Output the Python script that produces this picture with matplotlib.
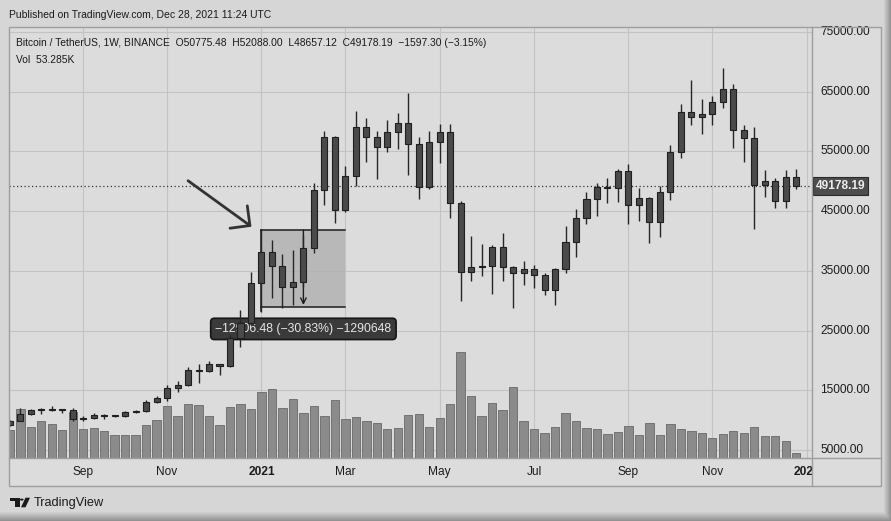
import numpy as np
import matplotlib.pyplot as plt
from matplotlib.patches import Rectangle, Polygon, Circle
from matplotlib.lines import Line2D

plt.rcParams['font.family'] = ['Liberation Sans', 'DejaVu Sans']

# weekly BTC/USDT candles, week of 2020-07-20 .. 2021-12-27
opens = [9160, 9930, 11100, 11680, 11900, 11650, 11700, 10250, 10330, 10930,
         10775, 10670, 11380, 11500, 13030, 13760, 15480, 15960, 18400, 18180,
         19350, 19150, 23700, 26280, 33000, 38150, 35830, 32260, 33090, 38890,
         48580, 57410, 45140, 50970, 59020, 57340, 55790, 58200, 59770, 56200,
         49070, 56580, 58240, 46430, 34770, 35680, 35800, 39020, 35600, 34700,
         35290, 34260, 31780, 35400, 39850, 43800, 47080, 49000, 48850, 51760,
         46060, 47240, 43160, 48200, 54950, 61530, 60850, 61300, 63270, 65500,
         58620, 57270, 49400, 50100, 46680, 50775.48]
highs = [10100, 12120, 11900, 12100, 12470, 11800, 12090, 10800, 11180, 10990,
         10950, 11500, 11720, 13350, 14100, 15960, 16500, 18950, 19480, 19900,
         19420, 24300, 28400, 34780, 41950, 40100, 37850, 38530, 40950, 49700,
         58350, 57530, 52640, 61800, 60630, 58400, 60200, 61500, 64850, 57500,
         58450, 59600, 59600, 46660, 40900, 39500, 39400, 41330, 35750, 36600,
         35950, 34600, 35500, 42600, 45300, 48150, 49800, 50500, 52000, 52920,
         48840, 47360, 49230, 56100, 62930, 67000, 63710, 64270, 69000, 66280,
         59400, 59050, 51940, 50520, 51850, 52088.00]
lows = [9050, 9880, 10920, 11120, 11570, 11150, 9880, 9880, 10200, 10140,
        10500, 10530, 11200, 11400, 12880, 13200, 14800, 15800, 16200, 18100,
        17600, 19000, 22350, 26000, 28130, 30420, 28850, 29240, 32300, 37990,
        46000, 43000, 44950, 49300, 53270, 50430, 54900, 55470, 51000, 47050,
        48750, 53050, 43830, 30000, 33400, 34230, 31120, 33340, 28800, 32700,
        32080, 31020, 29280, 34700, 37300, 42850, 44200, 46370, 46500, 42840,
        43370, 39600, 40750, 46900, 53880, 59500, 58000, 59400, 62300, 55600,
        53260, 42000, 47320, 45500, 45560, 48657.12]
closes = opens[1:] + [49178.19]
# volume in thousand BTC
volumes = [283, 500, 317, 373, 343, 283, 467, 290, 300, 273,
           230, 230, 230, 333, 383, 523, 423, 543, 533, 423,
           333, 513, 543, 493, 663, 700, 503, 593, 460, 523,
           423, 583, 393, 413, 373, 353, 293, 303, 433, 443,
           313, 403, 543, 1073, 623, 423, 553, 483, 713, 373,
           293, 253, 313, 453, 373, 303, 293, 243, 263, 323,
           233, 353, 233, 343, 293, 273, 253, 203, 243, 273,
           253, 313, 223, 223, 173, 53.285]

month_pos = [7, 15, 24, 32, 41, 50, 59, 67, 76]
month_lbl = ['Sep', 'Nov', '2021', 'Mar', 'May', 'Jul', 'Sep', 'Nov', '2022']
price_ticks = [5000, 15000, 25000, 35000, 45000, 55000, 65000, 75000]
last_price = 49178.19

W, H = 891, 521
bg = '#d6d6d6'
pane = '#dcdcdc'
gridc = '#c3c3c3'
linec = '#9e9e9e'


def fx(p):
    return p / W


def fy(p):
    return 1 - p / H


L, R, T, B = 9.3, 811.7, 26.7, 458.3
RR, BB = 881, 486

fig = plt.figure(figsize=(8.91, 5.21), dpi=100, facecolor=bg)

ax = fig.add_axes([fx(L), fy(B), fx(R) - fx(L), fy(T) - fy(B)])
ax.set_facecolor(pane)
for s in ax.spines.values():
    s.set_visible(False)
ax.set_xticks([])
ax.set_yticks([])

x = np.arange(len(opens))
o = np.array(opens)
c = np.array(closes)

for p in price_ticks:
    ax.axhline(p, color=gridc, lw=0.8, zorder=0)
for m in month_pos:
    ax.axvline(m, color=gridc, lw=0.8, zorder=0)

vtop = 4338.0
ax.bar(x, np.array(volumes) / vtop, width=0.8, bottom=0,
       transform=ax.get_xaxis_transform(), color='#8b8b8b',
       edgecolor='#727272', lw=0.7, zorder=1)

ax.vlines(x, lows, highs, color='#262626', lw=1.0, zorder=3)
ax.bar(x, np.maximum(np.abs(c - o), 180), bottom=np.minimum(o, c), width=0.58,
       color='#4a4a4a', edgecolor='#1f1f1f', lw=0.8, zorder=4)

ax.axhline(last_price, color='#333333', lw=0.9, ls=(0, (1, 2)), zorder=2)

# measure tool
box_top, box_bot = 41862, 28956
ax.add_patch(Rectangle((24, box_bot), 8, box_top - box_bot, fc='#b0b0b0',
                       ec='none', alpha=0.8, zorder=2))
ax.plot([24, 32], [box_top, box_top], color='#1e1e1e', lw=1.1, zorder=2.2)
ax.plot([24, 32], [box_bot, box_bot], color='#1e1e1e', lw=1.1, zorder=2.2)
ax.plot([24, 24], [box_top, box_bot - 600], color='#1e1e1e', lw=1.1, zorder=2.2)
ax.annotate('', xy=(28, box_bot + 350), xytext=(28, box_top),
            arrowprops=dict(arrowstyle='->', color='#1e1e1e', lw=1.0,
                            shrinkA=0, shrinkB=0), zorder=2.2)
ax.text(28, 25300, '\u221212906.48 (\u221230.83%) \u22121290648', ha='center',
        va='center', fontsize=8.8, color='#e6e6e6', zorder=2.6,
        bbox=dict(boxstyle='round,pad=0.38,rounding_size=0.3', fc='#3a3a3a',
                  ec='#151515', lw=1.2))

# hand drawn arrow
ax.plot([17.0, 22.9], [50100, 42600], color='#333333', lw=2.0,
        solid_capstyle='round', zorder=5)
ax.plot([21.0, 22.9, 22.65], [42150, 42600, 45900], color='#333333', lw=2.0,
        solid_capstyle='round', zorder=5)

ax.set_xlim(-0.05, 76.48)
ax.set_ylim(3645, 75880)

# price scale
axp = fig.add_axes([fx(R), fy(B), fx(RR) - fx(R), fy(T) - fy(B)])
axp.set_facecolor(pane)
axp.set_xlim(0, 1)
axp.set_ylim(ax.get_ylim())
axp.set_xticks([])
axp.set_yticks([])
for s in axp.spines.values():
    s.set_visible(False)
for p in price_ticks:
    axp.text(0.125, p, f'{p:.2f}', va='center', ha='left', fontsize=8.6,
             color='#1c1c1c')
axp.text(0.06, last_price, f'{last_price:.2f}', va='center', ha='left',
         fontsize=8.6, color='#ececec', fontweight='bold',
         bbox=dict(boxstyle='square,pad=0.25', fc='#4d4d4d', ec='#2a2a2a',
                   lw=0.8))

# time scale
axt = fig.add_axes([fx(L), fy(BB), fx(R) - fx(L), fy(B) - fy(BB)])
axt.set_facecolor(pane)
axt.set_xlim(ax.get_xlim())
axt.set_ylim(0, 1)
axt.set_xticks([])
axt.set_yticks([])
for s in axt.spines.values():
    s.set_visible(False)
for m, lbl in zip(month_pos, month_lbl):
    axt.text(m, 0.5, lbl, ha='center', va='center', fontsize=8.6,
             color='#1c1c1c', clip_on=True,
             fontweight='bold' if lbl.isdigit() else 'normal')

# corner
fig.add_artist(Rectangle((fx(R), fy(BB)), fx(RR) - fx(R), fy(B) - fy(BB),
                         transform=fig.transFigure, fc=pane, ec='none'))

# frame lines
fig.add_artist(Rectangle((fx(L), fy(BB)), fx(RR) - fx(L), fy(T) - fy(BB),
                         transform=fig.transFigure, fc='none', ec=linec,
                         lw=1.0, zorder=10))
fig.add_artist(Line2D([fx(R), fx(R)], [fy(T), fy(BB)], transform=fig.transFigure,
                      color=linec, lw=1.0, zorder=10))
fig.add_artist(Line2D([fx(L), fx(RR)], [fy(B), fy(B)], transform=fig.transFigure,
                      color=linec, lw=1.0, zorder=10))

# texts
fig.text(fx(9), fy(15), 'Published on TradingView.com, Dec 28, 2021 11:24 UTC',
         va='center', ha='left', fontsize=7.5, color='#1a1a1a')
fig.text(fx(16), fy(43), 'Bitcoin / TetherUS, 1W, BINANCE  O50775.48  H52088.00  '
         'L48657.12  C49178.19  \u22121597.30 (\u22123.15%)',
         va='center', ha='left', fontsize=7.4, color='#1a1a1a')
fig.text(fx(16), fy(60), 'Vol  53.285K', va='center', ha='left', fontsize=7.4,
         color='#1a1a1a')


# logo
def pts(lst):
    return [(fx(a), fy(b)) for a, b in lst]


logo = '#1a1a1a'
fig.add_artist(Polygon(pts([(10, 497.7), (19.5, 497.7), (19.5, 507.3), (15, 507.3),
                            (15, 501.3), (10, 501.3)]),
                       closed=True, transform=fig.transFigure, fc=logo, ec='none'))
fig.add_artist(Circle((fx(21.8), fy(499.6)), 1.8 / W, transform=fig.transFigure,
                      fc=logo, ec='none'))
fig.add_artist(Polygon(pts([(25.5, 497.7), (30, 497.7), (25.5, 507.3), (21, 507.3)]),
                       closed=True, transform=fig.transFigure, fc=logo, ec='none'))
fig.text(fx(34), fy(503), 'TradingView', va='center', ha='left', fontsize=9.2,
         color='#1a1a1a')

# darker shading along the right and bottom edges of the screenshot
shade = fig.add_axes([0, 0, 1, 1], zorder=20)
shade.axis('off')
gx = np.clip((np.arange(W) - 883) / 8.0, 0, 1)
gy = np.clip((np.arange(H) - 511) / 10.0, 0, 1)
alpha = np.maximum(gx[None, :], gy[:, None]) * 0.35
rgba = np.zeros((H, W, 4))
rgba[..., 3] = alpha
shade.imshow(rgba, extent=[0, 1, 0, 1], aspect='auto', interpolation='bilinear')

fig.savefig('out.png', dpi=100, facecolor=bg)
